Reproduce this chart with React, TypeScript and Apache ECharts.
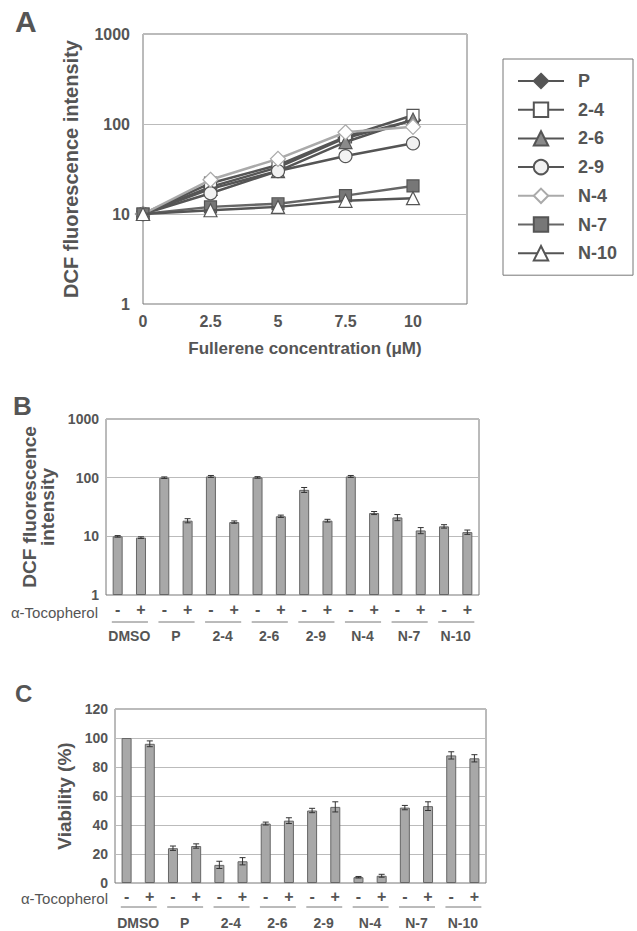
import React, { useEffect, useRef } from 'react';
import * as echarts from 'echarts';

// ---------- Panel A data ----------
const concentrations = [0, 2.5, 5, 7.5, 10];
const seriesNames = ['P', '2-4', '2-6', '2-9', 'N-4', 'N-7', 'N-10'];
const valuesP = [10, 20, 33, 70, 110];
const values24 = [10, 22, 35, 72, 125];
const values26 = [10, 19, 30, 63, 112];
const values29 = [10, 17, 30, 44, 61];
const valuesN4 = [10, 24, 41, 81, 93];
const valuesN7 = [10, 12, 13, 16, 20.5];
const valuesN10 = [10, 11, 12, 14, 15];
const lineValues = [valuesP, values24, values26, values29, valuesN4, valuesN7, valuesN10];

// ---------- Panels B / C data ----------
const groups = ['DMSO', 'P', '2-4', '2-6', '2-9', 'N-4', 'N-7', 'N-10'];
const signs = ['-', '+'];
const dcfMeans = [10, 9.5, 100, 18.5, 105, 17.5, 101, 22, 62, 18.5, 105, 25, 21, 12.6, 14.8, 11.8];
const dcfErrors = [0.3, 0.3, 3, 1.5, 4, 0.8, 3, 1, 6, 1, 4, 1.5, 2.5, 1.5, 1, 1];
const viabilityMeans = [100, 96, 24, 25.5, 12.5, 15, 41, 43, 50, 52.5, 4, 5, 52, 53, 88, 86];
const viabilityErrors = [0, 2, 1.5, 1.5, 2.5, 2.5, 1, 2, 1.5, 3.5, 0.5, 1, 1.5, 3, 2.5, 2.5];
const xTickLabelsA = ['0', '2.5', '5', '7.5', '10'];
const logTickLabels = ['1', '10', '100', '1000'];
const logTickValues = [1, 10, 100, 1000];

const TEXT = '#555';
const FONT = '"Liberation Sans", Arial, Helvetica, sans-serif';

const lineLooks = [
  { symbol: 'diamond', size: 15, line: '#555', fill: '#555', border: '#555' },
  { symbol: 'rect', size: 12, line: '#555', fill: '#fff', border: '#555' },
  { symbol: 'triangle', size: 13, line: '#555', fill: '#8a8a8a', border: '#555' },
  { symbol: 'circle', size: 13, line: '#555', fill: '#f2f2f2', border: '#555' },
  { symbol: 'diamond', size: 15, line: '#aaa', fill: '#fff', border: '#aaa' },
  { symbol: 'rect', size: 12, line: '#666', fill: '#777', border: '#555' },
  { symbol: 'triangle', size: 13, line: '#555', fill: '#fff', border: '#555' },
];

const pairCategories = groups.flatMap((g) => signs.map((s) => g + ' ' + s));

const logFormatter = (v: number) => {
  const idx = logTickValues.findIndex((t) => Math.abs(t - v) < 1e-6 * t);
  return idx >= 0 ? logTickLabels[idx] : String(v);
};

function errorBarSeries(means: number[], errs: number[], xi: number, yi: number) {
  return {
    type: 'custom',
    xAxisIndex: xi,
    yAxisIndex: yi,
    clip: false,
    z: 5,
    data: means.map((m, i) => [i, m, errs[i]]),
    renderItem: (params: any, api: any) => {
      const i = api.value(0);
      const v = api.value(1);
      const e = api.value(2);
      if (!e) return { type: 'group', children: [] };
      const top = api.coord([i, v + e]);
      const bot = api.coord([i, v - e]);
      const hw = 3;
      const style = { stroke: '#333', lineWidth: 1 };
      return {
        type: 'group',
        children: [
          { type: 'line', shape: { x1: top[0], y1: top[1], x2: bot[0], y2: bot[1] }, style },
          { type: 'line', shape: { x1: top[0] - hw, y1: top[1], x2: top[0] + hw, y2: top[1] }, style },
          { type: 'line', shape: { x1: bot[0] - hw, y1: bot[1], x2: bot[0] + hw, y2: bot[1] }, style },
        ],
      };
    },
  };
}

function underlineSeries(xi: number, yi: number, base: number, drop: number) {
  return {
    type: 'custom',
    xAxisIndex: xi,
    yAxisIndex: yi,
    clip: false,
    silent: true,
    data: groups.map((g, i) => [i, base]),
    renderItem: (params: any, api: any) => {
      const g = api.value(0);
      const a = api.coord([g * 2, base]);
      const b = api.coord([g * 2 + 1, base]);
      const bw = b[0] - a[0];
      const y = a[1] + drop;
      return {
        type: 'line',
        shape: { x1: a[0] - bw * 0.25, y1: y, x2: b[0] + bw * 0.3, y2: y },
        style: { stroke: '#777', lineWidth: 1 },
      };
    },
  };
}

function signAxis(gridIndex: number, margin: number) {
  return {
    gridIndex,
    type: 'category',
    data: pairCategories,
    axisLine: { show: false },
    axisTick: { show: false },
    splitLine: { show: false },
    axisLabel: {
      interval: 0,
      margin,
      fontSize: 16,
      fontWeight: 'bold',
      color: TEXT,
      fontFamily: FONT,
      formatter: (v: string) => v.split(' ').pop(),
    },
  };
}

function groupAxis(gridIndex: number, offset: number) {
  return {
    gridIndex,
    type: 'category',
    data: groups,
    position: 'bottom',
    offset,
    axisLine: { show: false },
    axisTick: { show: false },
    splitLine: { show: false },
    axisLabel: { interval: 0, margin: 4, fontSize: 14, fontWeight: 'bold', color: TEXT, fontFamily: FONT },
  };
}

export default function App() {
  const ref = useRef<HTMLDivElement>(null);

  useEffect(() => {
    if (!ref.current) return;
    const chart = echarts.init(ref.current, null, { renderer: 'svg' });

    const gridStyle = { show: true, borderColor: '#777', borderWidth: 1, backgroundColor: 'transparent' };

    const option: any = {
      animation: false,
      backgroundColor: '#fff',
      textStyle: { fontFamily: FONT },
      grid: [
        { left: 143, top: 34, width: 324, height: 270, ...gridStyle },
        { left: 106, top: 419, width: 373, height: 176, ...gridStyle },
        { left: 115, top: 709, width: 371, height: 174, ...gridStyle },
      ],
      legend: {
        data: seriesNames,
        orient: 'vertical',
        left: 503,
        top: 59,
        itemWidth: 46,
        itemHeight: 18,
        itemGap: 10.7,
        padding: [13, 16, 13, 14],
        borderColor: '#777',
        borderWidth: 1,
        textStyle: { fontSize: 18, fontWeight: 'bold', color: TEXT, fontFamily: FONT, padding: [0, 0, 0, 9] },
      },
      xAxis: [
        {
          gridIndex: 0,
          type: 'value',
          min: 0,
          max: 12,
          interval: 2.5,
          axisLine: { show: false },
          axisTick: { show: false },
          splitLine: { show: false },
          axisLabel: {
            margin: 9,
            fontSize: 16,
            fontWeight: 'bold',
            color: TEXT,
            fontFamily: FONT,
            formatter: (v: number) => {
              const idx = concentrations.indexOf(v);
              return idx >= 0 ? xTickLabelsA[idx] : '';
            },
          },
          name: 'Fullerene concentration (μM)',
          nameLocation: 'middle',
          nameGap: 36,
          nameTextStyle: { fontSize: 17, fontWeight: 'bold', color: TEXT, fontFamily: FONT },
        },
        signAxis(1, 6),
        groupAxis(1, 30),
        signAxis(2, 5),
        groupAxis(2, 29),
      ],
      yAxis: [
        {
          gridIndex: 0,
          type: 'log',
          logBase: 10,
          min: 1,
          max: 1000,
          axisLine: { show: false },
          axisTick: { show: false },
          splitLine: { show: true, lineStyle: { color: '#bbb', width: 1 } },
          axisLabel: { margin: 13, fontSize: 16, fontWeight: 'bold', color: TEXT, fontFamily: FONT, formatter: logFormatter },
          name: 'DCF fluorescence intensity',
          nameLocation: 'middle',
          nameGap: 62,
          nameTextStyle: { fontSize: 20, fontWeight: 'bold', color: TEXT, fontFamily: FONT },
        },
        {
          gridIndex: 1,
          type: 'log',
          logBase: 10,
          min: 1,
          max: 1000,
          axisLine: { show: false },
          axisTick: { show: false },
          splitLine: { show: true, lineStyle: { color: '#bbb', width: 1 } },
          axisLabel: { margin: 7, fontSize: 14, fontWeight: 'bold', color: TEXT, fontFamily: FONT, formatter: logFormatter },
          name: 'DCF fluorescence\nintensity',
          nameLocation: 'middle',
          nameGap: 43,
          nameTextStyle: { fontSize: 19, fontWeight: 'bold', color: TEXT, fontFamily: FONT, lineHeight: 18 },
        },
        {
          gridIndex: 2,
          type: 'value',
          min: 0,
          max: 120,
          interval: 20,
          axisLine: { show: false },
          axisTick: { show: false },
          splitLine: { show: true, lineStyle: { color: '#bbb', width: 1 } },
          axisLabel: { margin: 7, fontSize: 14, fontWeight: 'bold', color: TEXT, fontFamily: FONT },
          name: 'Viability (%)',
          nameLocation: 'middle',
          nameGap: 38,
          nameTextStyle: { fontSize: 19, fontWeight: 'bold', color: TEXT, fontFamily: FONT },
        },
      ],
      graphic: [
        { type: 'text', x: 15, y: 21, style: { text: 'A', fontSize: 30, fontWeight: 'bold', fill: TEXT, fontFamily: FONT, verticalAlign: 'middle' } },
        { type: 'text', x: 13, y: 406, style: { text: 'B', fontSize: 26, fontWeight: 'bold', fill: TEXT, fontFamily: FONT, verticalAlign: 'middle' } },
        { type: 'text', x: 15, y: 693, style: { text: 'C', fontSize: 24, fontWeight: 'bold', fill: TEXT, fontFamily: FONT, verticalAlign: 'middle' } },
        { type: 'text', x: 98, y: 612, style: { text: 'α-Tocopherol', fontSize: 15, fill: TEXT, fontFamily: FONT, align: 'right', verticalAlign: 'middle' } },
        { type: 'text', x: 108, y: 898, style: { text: 'α-Tocopherol', fontSize: 15, fill: TEXT, fontFamily: FONT, align: 'right', verticalAlign: 'middle' } },
      ],
      series: [
        ...seriesNames.map((name, k) => ({
          name,
          type: 'line',
          xAxisIndex: 0,
          yAxisIndex: 0,
          data: concentrations.map((c, i) => [c, lineValues[k][i]]),
          symbol: lineLooks[k].symbol,
          symbolSize: lineLooks[k].size,
          showSymbol: true,
          lineStyle: { color: lineLooks[k].line, width: 2.5 },
          itemStyle: { color: lineLooks[k].fill, borderColor: lineLooks[k].border, borderWidth: 1.2 },
          z: 2 + k,
        })),
        {
          name: 'DCF',
          type: 'bar',
          xAxisIndex: 1,
          yAxisIndex: 1,
          data: dcfMeans,
          barWidth: 10,
          itemStyle: { color: '#a8a8a8', borderColor: '#666', borderWidth: 1 },
        },
        errorBarSeries(dcfMeans, dcfErrors, 1, 1),
        underlineSeries(1, 1, 1, 27),
        {
          name: 'Viability',
          type: 'bar',
          xAxisIndex: 3,
          yAxisIndex: 2,
          data: viabilityMeans,
          barWidth: 10,
          itemStyle: { color: '#a8a8a8', borderColor: '#666', borderWidth: 1 },
        },
        errorBarSeries(viabilityMeans, viabilityErrors, 3, 2),
        underlineSeries(3, 2, 0, 24),
      ],
    };

    chart.setOption(option);
    return () => chart.dispose();
  }, []);

  return (
    <div
      ref={ref}
      style={{ position: 'absolute', left: 0, top: 0, width: 637, height: 931 }}
    />
  );
}
